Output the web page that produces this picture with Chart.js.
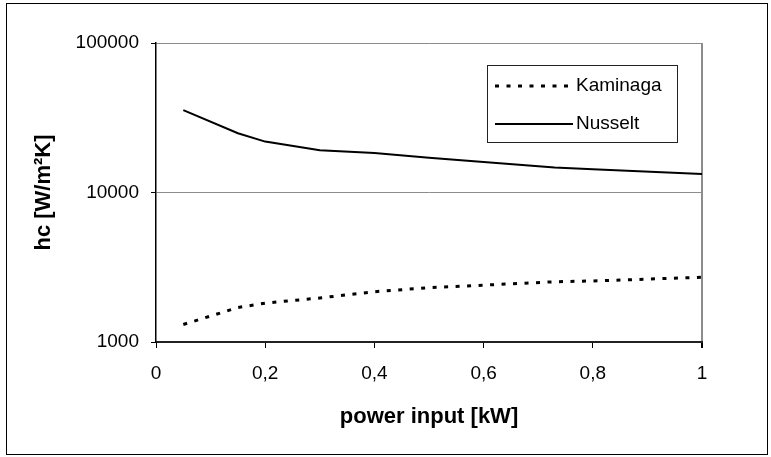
<!DOCTYPE html>
<html>
<head>
<meta charset="utf-8">
<script src="https://cdn.jsdelivr.net/npm/chart.js@4/dist/chart.umd.min.js"></script>
<style>
  html, body { margin: 0; padding: 0; background: #ffffff; }
  #wrap { position: relative; width: 771px; height: 457px; }
</style>
</head>
<body>
<div id="wrap"><canvas id="c" width="771" height="457"></canvas></div>
<script>
// ---- data ----
const powerKW   = [0.05, 0.15, 0.2, 0.3, 0.4, 0.5, 0.6, 0.73, 0.8, 1.0];
const kaminaga  = [1310, 1700, 1820, 1970, 2170, 2310, 2400, 2530, 2560, 2710];
const nusselt   = [35600, 24900, 21900, 19200, 18400, 17100, 16000, 14700, 14300, 13300];
const seriesNames = ['Kaminaga', 'Nusselt'];
const xTickValues = [0, 0.2, 0.4, 0.6, 0.8, 1];
const xTickLabels = ['0', '0,2', '0,4', '0,6', '0,8', '1'];
const yTickValues = [1000, 10000, 100000];
const yTickLabels = ['1000', '10000', '100000'];
const xTitle = 'power input [kW]';
const yTitle = 'hc [W/m\u00B2K]';

const FONT = "'Liberation Sans', Arial, sans-serif";

const pts = (ys) => powerKW.map((x, i) => ({x: x, y: ys[i]}));

const frameAndLegend = {
  id: 'frameAndLegend',
  afterDraw(chart) {
    const ctx = chart.ctx;
    ctx.save();
    // outer frame
    ctx.strokeStyle = '#000';
    ctx.lineWidth = 1;
    ctx.strokeRect(6.5, 3.5, 761, 451);
    // legend box
    const bx = 487.5, by = 65.5, bw = 190, bh = 77;
    ctx.fillStyle = '#fff';
    ctx.fillRect(bx, by, bw, bh);
    ctx.strokeStyle = '#222';
    ctx.lineWidth = 1;
    ctx.strokeRect(bx, by, bw, bh);
    const rows = [86, 124];
    chart.data.datasets.forEach((ds, i) => {
      const y = rows[i];
      ctx.beginPath();
      ctx.setLineDash(ds.borderDash || []);
      ctx.lineWidth = ds.borderWidth;
      ctx.strokeStyle = ds.borderColor;
      ctx.lineCap = 'butt';
      ctx.moveTo(495, y);
      ctx.lineTo(573, y);
      ctx.stroke();
      ctx.setLineDash([]);
      ctx.fillStyle = '#000';
      ctx.font = '19px ' + FONT;
      ctx.textBaseline = 'middle';
      ctx.textAlign = 'left';
      ctx.fillText(ds.label, 576, y);
    });
    ctx.restore();
  }
};

new Chart(document.getElementById('c'), {
  type: 'line',
  data: {
    datasets: [
      {
        label: seriesNames[0],
        data: pts(kaminaga),
        borderColor: '#000',
        borderWidth: 3,
        borderDash: [4, 7.5],
        borderCapStyle: 'butt',
        pointRadius: 0,
        tension: 0,
        fill: false
      },
      {
        label: seriesNames[1],
        data: pts(nusselt),
        borderColor: '#000',
        borderWidth: 2,
        pointRadius: 0,
        tension: 0,
        fill: false
      }
    ]
  },
  options: {
    responsive: false,
    animation: false,
    devicePixelRatio: 1,
    layout: { padding: { left: 0, top: 43, right: 69, bottom: 0 } },
    plugins: {
      legend: { display: false },
      tooltip: { enabled: false }
    },
    scales: {
      x: {
        type: 'linear',
        min: 0,
        max: 1,
        afterFit: (s) => { s.height = 115; },
        afterBuildTicks: (s) => { s.ticks = xTickValues.map(v => ({value: v})); },
        ticks: {
          color: '#000',
          font: { family: FONT, size: 19 },
          padding: 14,
          maxRotation: 0,
          autoSkip: false,
          callback: (v) => { const i = xTickValues.indexOf(v); return i >= 0 ? xTickLabels[i] : ''; }
        },
        grid: {
          drawTicks: true,
          tickLength: 6,
          tickColor: '#000',
          color: (c) => (c.tick && c.tick.value === 1) ? '#8c8c8c' : 'rgba(0,0,0,0)',
          lineWidth: (c) => (c.tick && c.tick.value === 1) ? 2 : 1
        },
        border: { display: true, color: '#222', width: 2 },
        title: {
          display: true,
          text: xTitle,
          color: '#000',
          font: { family: FONT, size: 22, weight: 'bold' },
          padding: { top: 0, bottom: 27 }
        }
      },
      y: {
        type: 'logarithmic',
        min: 1000,
        max: 100000,
        afterFit: (s) => { s.width = 156; },
        afterBuildTicks: (s) => { s.ticks = yTickValues.map(v => ({value: v})); },
        ticks: {
          color: '#000',
          font: { family: FONT, size: 19 },
          padding: 12,
          autoSkip: false,
          callback: (v) => { const i = yTickValues.indexOf(v); return i >= 0 ? yTickLabels[i] : ''; }
        },
        grid: {
          drawTicks: true,
          tickLength: 5,
          tickColor: '#000',
          color: '#8c8c8c',
          lineWidth: 1
        },
        border: { display: true, color: '#000', width: 1.5 },
        title: {
          display: true,
          text: yTitle,
          color: '#000',
          font: { family: FONT, size: 22, weight: 'bold' },
          padding: { top: 31, bottom: 0 }
        }
      }
    }
  },
  plugins: [frameAndLegend]
});
</script>
</body>
</html>
